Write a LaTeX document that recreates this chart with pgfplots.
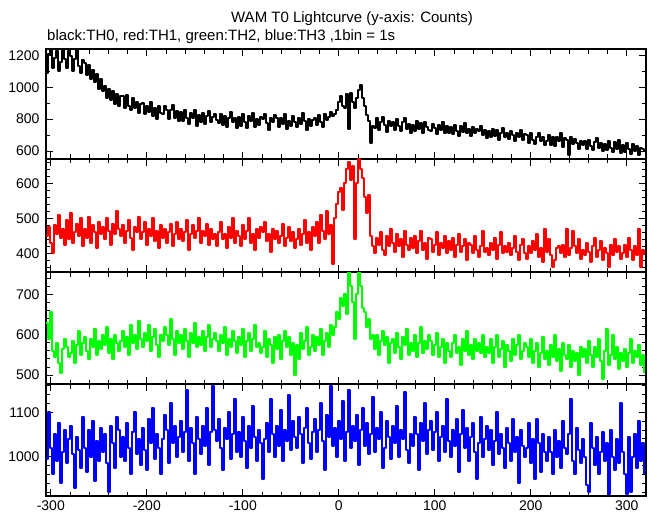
\documentclass[border=0pt]{standalone}
\usepackage{pgfplots}
\usepackage{pgfplotstable}
\pgfplotsset{compat=1.18}
\usepackage{fontspec}
\setmainfont{Liberation Sans}

% 300 bins per series, bin j at t = -305 + 2.08333 j  (one bin = 2 px)
\pgfplotstableread[row sep=\\,header=false]{
1090\\1210\\1245\\1120\\1185\\1225\\1100\\1160\\1235\\1175\\
1120\\1230\\1195\\1105\\1180\\1240\\1135\\1090\\1170\\
1150\\1075\\1140\\1050\\1110\\1030\\1085\\990\\1050\\975\\
1010\\935\\990\\920\\975\\895\\960\\880\\945\\
945\\870\\950\\880\\855\\935\\870\\910\\840\\895\\
900\\830\\885\\845\\910\\820\\870\\800\\880\\840\\
830\\885\\860\\800\\855\\890\\810\\850\\790\\
845\\790\\860\\810\\770\\840\\805\\855\\760\\825\\
785\\840\\770\\820\\850\\780\\815\\830\\795\\
775\\830\\765\\820\\750\\810\\845\\780\\805\\745\\
815\\760\\830\\780\\745\\820\\790\\840\\750\\800\\
765\\815\\800\\835\\775\\735\\805\\780\\825\\
805\\750\\810\\770\\830\\740\\790\\760\\820\\780\\
750\\810\\770\\840\\790\\735\\800\\760\\795\\
810\\765\\825\\785\\750\\835\\795\\815\\845\\820\\
830\\860\\905\\945\\880\\870\\955\\740\\965\\905\\
870\\930\\985\\1015\\935\\880\\825\\790\\650\\760\\
745\\805\\730\\780\\815\\765\\720\\790\\760\\
780\\735\\800\\755\\725\\785\\805\\740\\770\\715\\
765\\725\\790\\740\\775\\710\\780\\750\\735\\
725\\770\\745\\705\\765\\730\\785\\715\\755\\710\\
750\\705\\765\\725\\695\\755\\720\\775\\710\\740\\
695\\750\\710\\740\\725\\755\\700\\730\\680\\
725\\685\\740\\695\\730\\670\\715\\745\\690\\710\\
675\\725\\700\\660\\715\\685\\730\\670\\705\\
700\\650\\710\\670\\645\\690\\715\\660\\685\\635\\
665\\700\\640\\685\\630\\690\\665\\710\\625\\680\\
670\\575\\685\\645\\675\\650\\615\\665\\635\\
660\\615\\670\\630\\605\\655\\680\\620\\650\\600\\
645\\605\\660\\620\\595\\655\\615\\670\\590\\
640\\595\\650\\610\\580\\645\\600\\630\\575\\620\\
615\\595\\
}\thzero

\pgfplotstableread[row sep=\\,header=false]{
450\\475\\430\\400\\480\\455\\510\\445\\470\\425\\
495\\440\\515\\430\\460\\485\\450\\500\\420\\
470\\445\\505\\430\\480\\460\\415\\490\\455\\475\\
440\\500\\465\\425\\485\\455\\520\\470\\450\\
480\\430\\465\\495\\445\\410\\475\\460\\505\\440\\
460\\490\\425\\470\\450\\500\\435\\465\\415\\480\\
445\\470\\430\\460\\485\\420\\455\\490\\440\\
470\\435\\460\\495\\410\\455\\480\\445\\465\\500\\
430\\465\\450\\485\\425\\470\\440\\455\\420\\
460\\490\\440\\455\\415\\475\\445\\500\\430\\465\\
450\\420\\480\\440\\465\\500\\430\\455\\410\\470\\
445\\475\\460\\490\\435\\455\\405\\470\\440\\
465\\430\\450\\485\\420\\445\\475\\435\\460\\415\\
440\\470\\425\\455\\495\\430\\460\\410\\475\\
450\\490\\430\\510\\465\\440\\520\\455\\480\\370\\
500\\540\\575\\585\\525\\600\\640\\660\\610\\650\\
440\\600\\670\\640\\615\\560\\515\\565\\450\\420\\
400\\445\\425\\460\\410\\395\\450\\420\\470\\
430\\405\\455\\420\\440\\390\\465\\425\\410\\445\\
415\\450\\400\\435\\465\\410\\430\\385\\445\\
440\\405\\425\\460\\395\\430\\415\\450\\400\\435\\
410\\445\\390\\425\\455\\405\\420\\440\\380\\430\\
425\\400\\450\\410\\390\\420\\465\\405\\415\\
395\\430\\410\\445\\385\\425\\460\\400\\420\\405\\
430\\395\\415\\450\\405\\380\\425\\440\\400\\
385\\420\\400\\435\\410\\455\\390\\415\\375\\470\\
405\\440\\395\\360\\380\\415\\420\\400\\425\\390\\
470\\395\\415\\465\\420\\400\\440\\385\\410\\
395\\430\\405\\375\\420\\445\\390\\410\\435\\380\\
415\\400\\360\\425\\395\\440\\405\\420\\385\\
400\\425\\390\\445\\410\\380\\420\\395\\470\\360\\
410\\395\\
}\thone

\pgfplotstableread[row sep=\\,header=false]{
630\\590\\655\\560\\545\\580\\530\\505\\565\\590\\
570\\545\\555\\585\\530\\575\\610\\550\\580\\
595\\560\\540\\590\\570\\615\\550\\585\\565\\600\\
575\\620\\555\\590\\540\\600\\580\\560\\585\\
610\\570\\595\\550\\625\\580\\600\\565\\635\\590\\
570\\605\\585\\625\\560\\595\\615\\575\\545\\600\\
585\\620\\600\\575\\640\\590\\550\\610\\580\\
600\\565\\615\\585\\545\\605\\580\\630\\570\\595\\
575\\610\\560\\595\\625\\570\\590\\605\\585\\
560\\600\\580\\620\\550\\590\\570\\610\\585\\555\\
595\\575\\615\\545\\585\\605\\560\\590\\625\\570\\
580\\555\\570\\610\\545\\590\\575\\530\\595\\
565\\600\\540\\585\\610\\570\\595\\550\\580\\500\\
575\\540\\605\\565\\585\\620\\550\\570\\600\\
560\\595\\575\\615\\550\\585\\605\\570\\625\\600\\
620\\655\\640\\690\\670\\700\\650\\755\\720\\680\\
590\\700\\755\\720\\665\\655\\620\\640\\590\\600\\
565\\600\\550\\585\\610\\575\\595\\530\\580\\
590\\555\\605\\570\\540\\595\\575\\615\\550\\580\\
560\\600\\545\\580\\620\\555\\585\\565\\600\\
585\\550\\575\\605\\545\\570\\590\\530\\580\\560\\
545\\580\\600\\555\\570\\525\\590\\560\\610\\550\\
575\\540\\590\\560\\580\\555\\600\\545\\570\\
555\\590\\530\\570\\600\\545\\565\\585\\520\\575\\
560\\535\\590\\550\\575\\600\\540\\560\\580\\
570\\545\\590\\530\\560\\580\\520\\555\\595\\540\\
560\\525\\575\\545\\600\\535\\565\\510\\580\\550\\
540\\575\\520\\560\\535\\555\\500\\570\\545\\
565\\530\\585\\550\\520\\570\\545\\590\\535\\490\\
560\\615\\525\\550\\600\\540\\570\\515\\555\\
535\\565\\520\\555\\590\\530\\560\\545\\575\\525\\
550\\505\\
}\thtwo

\pgfplotstableread[row sep=\\,header=false]{
995\\1100\\1020\\960\\1050\\990\\1075\\940\\1010\\1060\\
985\\1040\\1070\\1005\\930\\1045\\1015\\975\\1090\\
1020\\965\\1060\\1000\\1080\\945\\1035\\990\\1065\\1010\\
1050\\985\\920\\1070\\1030\\975\\1090\\1060\\1000\\
1045\\990\\1075\\1020\\960\\1055\\1100\\1005\\1040\\980\\
1065\\1015\\970\\1085\\1030\\1110\\995\\1050\\1020\\960\\
1040\\1095\\1060\\985\\1120\\1030\\1070\\1000\\1045\\
1080\\1010\\1055\\1150\\990\\1065\\1030\\960\\1090\\1040\\
1005\\1070\\1025\\1110\\980\\1055\\1160\\1060\\1035\\
1085\\1020\\970\\1065\\1040\\1100\\995\\1050\\1130\\1010\\
1055\\1000\\1090\\1035\\975\\1070\\1020\\1115\\1045\\990\\
1060\\1030\\950\\1040\\1075\\1010\\1130\\1050\\1000\\
1070\\1025\\1105\\990\\1060\\1035\\1140\\1015\\1080\\1045\\
1020\\1090\\1050\\985\\1065\\1110\\1030\\995\\1055\\
1085\\1010\\1060\\1120\\1035\\970\\1095\\1045\\1160\\1025\\
1065\\1000\\1080\\1040\\1125\\990\\1055\\1150\\1020\\1070\\
1035\\1095\\980\\1060\\1110\\1025\\1075\\1005\\1050\\1135\\
1010\\1065\\1040\\1100\\975\\1020\\1080\\1045\\995\\
1070\\1030\\1115\\1000\\1060\\1040\\1145\\1015\\985\\1050\\
1025\\1090\\1050\\970\\1075\\1035\\1120\\1005\\1060\\
1080\\1015\\1055\\1100\\990\\1045\\1070\\1010\\1130\\1035\\
1000\\1060\\1025\\1085\\965\\1050\\1105\\1020\\1065\\990\\
1045\\1075\\1010\\950\\1030\\1090\\1000\\1040\\1070\\
1015\\1060\\980\\1035\\1100\\1005\\1050\\1020\\975\\1065\\
1030\\990\\1085\\1010\\1045\\940\\1060\\1025\\1000\\
1020\\1075\\985\\1040\\950\\1085\\1030\\965\\1050\\1010\\
990\\1045\\1010\\960\\1060\\1000\\1035\\975\\1080\\1020\\
1005\\1050\\1130\\990\\960\\1065\\1015\\985\\1040\\
1000\\935\\920\\1075\\1020\\980\\1045\\960\\1010\\1055\\
990\\1030\\915\\1060\\1000\\970\\1040\\985\\1120\\
1010\\960\\915\\1045\\920\\1000\\1050\\975\\1080\\990\\
1030\\960\\
}\ththree

\pgfplotsset{
  panel/.style={
    scale only axis, width=600pt,
    xmin=-305, xmax=320,
    xtick={-300,-200,...,300},
    minor xtick={-300,-280,...,320},
    tick align=inside,
    xtick pos=both, ytick pos=both,
    major tick length=7pt, minor tick length=4.5pt,
    every tick/.style={line width=0.9pt},
    axis line style={line width=1.5pt},
    tick label style={font=\fontsize{14}{16}\selectfont},
    /pgf/number format/assume math mode=true,
    /pgf/number format/1000 sep={},
    yticklabel style={xshift=-3pt},
    xticklabel style={yshift=-1pt},
  },
  curve/.style={const plot mark left, no marks, line width=2pt, line join=bevel},
}

\definecolor{pgreen}{RGB}{0,255,0}
\definecolor{pred}{RGB}{255,0,0}
\definecolor{pblue}{RGB}{0,0,255}

\begin{document}
\begin{tikzpicture}[x=1pt,y=1pt]
\useasboundingbox (0,0) rectangle (652,515);
\node[anchor=base, font=\fontsize{15}{17}\selectfont] at (352,492) {WAM T0 Lightcurve (y-axis: Counts)};
\node[anchor=base west, inner sep=0pt, font=\fontsize{15}{17}\selectfont] at (47,474) {black:TH0, red:TH1, green:TH2, blue:TH3 ,1bin = 1s};

\begin{axis}[panel, at={(46pt,356pt)}, anchor=south west, height=110pt,
  ymin=550, ymax=1240, ytick={600,800,1000,1200}, minor ytick={600,700,...,1200},
  xticklabels={}]
\addplot[curve, black] table[x expr=\coordindex*2.0833333-305, y index=0] {\thzero};
\end{axis}

\begin{axis}[panel, at={(46pt,243pt)}, anchor=south west, height=113pt,
  ymin=347, ymax=669, ytick={400,500,600}, minor ytick={360,380,...,660},
  xticklabels={}]
\addplot[curve, pred] table[x expr=\coordindex*2.0833333-305, y index=0] {\thone};
\end{axis}

\begin{axis}[panel, at={(46pt,131pt)}, anchor=south west, height=112pt,
  ymin=478, ymax=755, ytick={500,600,700}, minor ytick={480,500,...,740},
  xticklabels={}]
\addplot[curve, pgreen] table[x expr=\coordindex*2.0833333-305, y index=0] {\thtwo};
\end{axis}

\begin{axis}[panel, at={(46pt,19pt)}, anchor=south west, height=112pt,
  ymin=911, ymax=1164, ytick={1000,1100}, minor ytick={920,940,...,1160}]
\addplot[curve, pblue] table[x expr=\coordindex*2.0833333-305, y index=0] {\ththree};
\end{axis}
\end{tikzpicture}
\end{document}
